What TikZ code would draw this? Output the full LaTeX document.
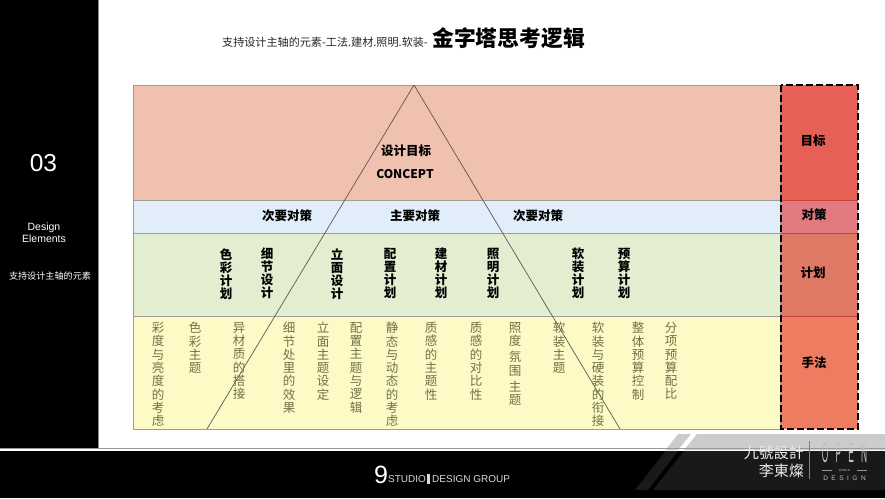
\documentclass[tikz,border=0pt]{standalone}
\usepackage{fontspec}
\setmainfont{Noto Sans CJK SC}
\newfontfamily\latinfont{Liberation Sans}
\usepackage{tikz}
\usetikzlibrary{positioning}
\definecolor{rowpink}{HTML}{F0C1AE}
\definecolor{rowblue}{HTML}{E1EDF9}
\definecolor{rowgreen}{HTML}{E3EDCF}
\definecolor{rowyellow}{HTML}{FDFAC6}
\definecolor{rowline}{HTML}{A09C98}
\definecolor{tipgray}{HTML}{727248}
\definecolor{sidegoal}{HTML}{E66055}
\definecolor{sidemeasure}{HTML}{E07A80}
\definecolor{sideplan}{HTML}{E07866}
\definecolor{sidemethod}{HTML}{EE7C60}
\definecolor{sideline}{HTML}{BE463C}
\tikzset{
  rowbox/.style={draw=rowline,line width=1pt},
  planlabel/.style={font=\bfseries\fontsize{12.5}{13}\selectfont,align=center,anchor=north,inner sep=0pt},
  methodlabel/.style={font=\fontsize{12.5}{13.3}\selectfont,align=center,anchor=north,inner sep=0pt,text=tipgray},
  headlabel/.style={font=\bfseries\fontsize{12.5}{14}\selectfont,inner sep=0pt},
  sidelabel/.style={text=white,align=center,inner sep=0pt},
  footlabel/.style={font=\fontsize{15}{18}\selectfont,text=white!92!black,inner sep=0pt,anchor=east},
  logolabel/.style={font=\latinfont\fontsize{10}{12}\selectfont,text=white!85!black,inner sep=0pt,anchor=west},
  openlabel/.style={text=white!75!black,inner sep=0pt}
}
\begin{document}
\begin{tikzpicture}[x=1pt,y=-1pt]
   \useasboundingbox (0,0) rectangle (885,498);
   \fill[white] (0,0) rectangle (885,498);
   % black frame
   \fill[black] (0,0) rectangle (98,449);
   \fill[black!45] (98,0) rectangle (99,449);
   \fill[black] (0,451) rectangle (885,498);
   % banner
   \fill[black!20] (697,434) -- (885,434) -- (885,450) -- (684,450) -- cycle;
   \fill[black!20] (678,434) -- (691,434) -- (678,450) -- (665.5,450) -- cycle;
   \fill[black!40] (0,447.5) rectangle (885,449);
   \fill[black!90] (684,451) -- (885,451) -- (885,490) -- (653,490) -- cycle;
   \fill[black!90] (665.5,451) -- (678,451) -- (648,490) -- (635,490) -- cycle;
   % rows
   \draw[rowbox,fill=rowpink] (133,85) rectangle (780,200);
   \draw[rowbox,fill=rowblue] (133,200) rectangle (780,233);
   \draw[rowbox,fill=rowgreen] (133,233) rectangle (780,316);
   \draw[rowbox,fill=rowyellow] (133,316) rectangle (780,429);
   % right column
   \fill[sidegoal] (781,85) rectangle (858,200);
   \fill[sidemeasure] (781,200) rectangle (858,233);
   \fill[sideplan] (781,233) rectangle (858,316);
   \fill[sidemethod] (781,316) rectangle (858,429);
   \draw[line width=1pt,sideline] (781,200) -- (858,200);
   \draw[line width=1pt,sideline] (781,233) -- (858,233);
   \draw[line width=1pt,sideline] (781,316) -- (858,316);
   \draw[line width=2.3pt,dash pattern=on 7pt off 3pt] (781,85) rectangle (858,429);
   % pyramid
   \draw[line width=0.7pt,black!65] (414,85) -- (207,429);
   \draw[line width=0.7pt,black!65] (414,85) -- (620,429);
   % title
   \node[font=\fontsize{11.1}{13}\selectfont,text=black!85,inner sep=0pt] (subtitle) at (325,42) {支持设计主轴的元素-工法.建材.照明.软装-};
   \node[font=\bfseries\fontsize{21.8}{24}\selectfont,inner sep=0pt,anchor=west] (title) at (432,38) {金字塔思考逻辑};
   % sidebar
   \node[sidelabel,font=\latinfont\fontsize{24.5}{28}\selectfont] (num) at (43.5,163) {03};
   \node[sidelabel,font=\latinfont\fontsize{10.5}{12}\selectfont] (elements) at (44,232.5) {Design\\Elements};
   \node[sidelabel,font=\fontsize{9.1}{11}\selectfont] (subject) at (50,276) {支持设计主轴的元素};
   % pyramid texts
   \node[headlabel] (goal) at (406,151) {设计目标};
   \node[headlabel,font=\bfseries\fontsize{12}{14}\selectfont] (concept) at (405,174) {CONCEPT};
   \node[headlabel] (second1) at (287,216) {次要对策};
   \node[headlabel] (main) at (415,216) {主要对策};
   \node[headlabel] (second2) at (538,216) {次要对策};
   % plans
   \foreach \name/\xpos/\txt in {p1/226/色\\彩\\计\\划, p2/267/细\\节\\设\\计, p3/337/立\\面\\设\\计, p4/390/配\\置\\计\\划, p5/441/建\\材\\计\\划, p6/493/照\\明\\计\\划, p7/578/软\\装\\计\\划, p8/624/预\\算\\计\\划}
     \node[planlabel] (\name) at (\xpos,248) {\txt};
   % methods
   \foreach \name/\xpos/\txt in {m1/158/彩\\度\\与\\亮\\度\\的\\考\\虑, m2/195/色\\彩\\主\\题, m3/239/异\\材\\质\\的\\搭\\接, m4/289/细\\节\\处\\里\\的\\效\\果, m5/323/立\\面\\主\\题\\设\\定, m6/356/配\\置\\主\\题\\与\\逻\\辑, m7/392/静\\态\\与\\动\\态\\的\\考\\虑, m8/431/质\\感\\的\\主\\题\\性, m9/476/质\\感\\的\\对\\比\\性, m10/515/照\\度\\[3pt]氛\\围\\[3pt]主\\题, m11/559/软\\装\\主\\题, m12/598/软\\装\\与\\硬\\装\\的\\衔\\接, m13/638/整\\体\\预\\算\\控\\制, m14/671/分\\项\\预\\算\\配\\比}
     \node[methodlabel] (\name) at (\xpos,322) {\txt};
   % right column texts
   \node[headlabel] (target) at (813,141) {目标};
   \node[headlabel] (measure) at (814,215) {对策};
   \node[headlabel] (plan) at (813,273) {计划};
   \node[headlabel] (method) at (814,363) {手法};
   % footer
   \node[font=\latinfont\fontsize{25}{28}\selectfont,text=white,inner sep=0pt] (nine) at (381,475) {9};
   \node[logolabel] (studio) at (388,479) {STUDIO};
   \fill[white!85!black] (426.5,474) rectangle (430,484);
   \node[logolabel] (group) at (432,479) {DESIGN GROUP};
   \node[footlabel] (brand) at (804,453) {九號設計};
   \node[footlabel] (person) at (804,471) {李東燦};
   \draw[white!50!black,line width=0.5pt] (809,441) -- (809,479);
   \node[openlabel,font=\latinfont\fontsize{28}{30}\selectfont,xscale=0.3] (open) at (844.5,453) {O\hspace{24pt}P\hspace{24pt}E\hspace{24pt}N};
   \node[openlabel,font=\latinfont\fontsize{3}{3.5}\selectfont] (world) at (844.5,470.5) {WORLD};
   \draw[white!60!black,line width=0.4pt] (822,470.5) -- (832,470.5);
   \draw[white!60!black,line width=0.4pt] (857,470.5) -- (867,470.5);
   \node[openlabel,font=\latinfont\fontsize{6.5}{7}\selectfont] (design) at (844.5,478) {D\hspace{3.5pt}E\hspace{3.5pt}S\hspace{3.5pt}I\hspace{3.5pt}G\hspace{3.5pt}N};
\end{tikzpicture}
\end{document}
